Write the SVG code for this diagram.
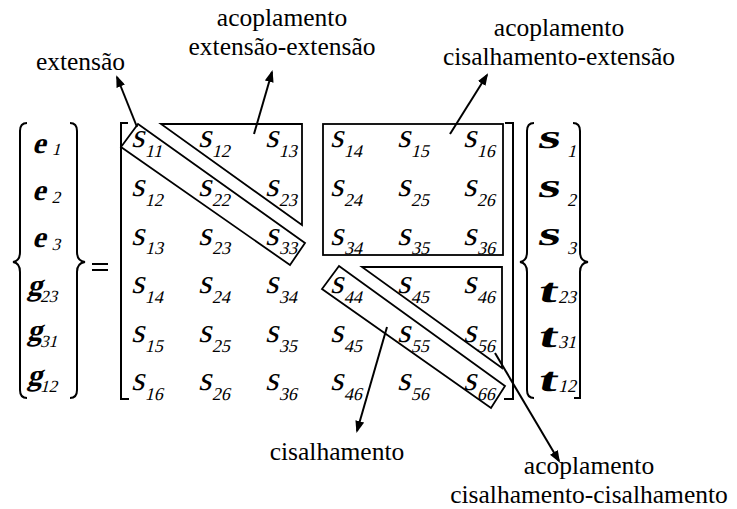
<svg xmlns="http://www.w3.org/2000/svg" width="737" height="509" viewBox="0 0 737 509">
<defs>
<style>
.lb{font-family:"Liberation Serif","Times New Roman",serif;font-size:25.5px;fill:#000;text-anchor:middle}
.s{font-family:"Liberation Serif","Times New Roman",serif;font-size:34px;fill:#000}
.sub{font-size:18px}
.lv{font-family:"Liberation Serif","Times New Roman",serif;font-weight:bold;font-size:30px;fill:#000}
.lsub{font-weight:normal;font-size:17px}
.rv{font-family:"Liberation Serif","Times New Roman",serif;font-weight:bold;font-size:34px;fill:#000}
.rsub{font-family:"Liberation Serif","Times New Roman",serif;font-weight:normal;font-size:18px;fill:#000}
.br{fill:none;stroke:#000;stroke-width:2}
.bx{fill:none;stroke:#000;stroke-width:1.8}
.cn{fill:none;stroke:#000;stroke-width:2;marker-end:url(#ah)}
</style>
<marker id="ah" viewBox="0 0 12 9" refX="10" refY="4.5" markerWidth="12" markerHeight="9" markerUnits="userSpaceOnUse" orient="auto">
<path d="M0,0 L12,4.5 L0,9 z" fill="#000"/>
</marker>
</defs>
<rect width="737" height="509" fill="#fff"/>

<g id="left-vector">
<path class="br" d="M27,123 Q20,123 20,131 L20,252 Q20,261 13,262 Q20,263 20,272 L20,390 Q20,398 27,398"/>
<path class="br" d="M70,123 Q77,123 77,131 L77,252 Q77,261 85,262 Q77,263 77,272 L77,390 Q77,398 70,398"/>
<text class="lv" transform="translate(32,153) skewX(-15)">e<tspan class="lsub" dx="7" dy="2">1</tspan></text>
<text class="lv" transform="translate(32,200) skewX(-15)">e<tspan class="lsub" dx="7" dy="3">2</tspan></text>
<text class="lv" transform="translate(32,247) skewX(-15)">e<tspan class="lsub" dx="7" dy="3">3</tspan></text>
<text class="lv" transform="translate(27,295) skewX(-15)">g<tspan class="lsub" dx="0" dy="7">23</tspan></text>
<text class="lv" transform="translate(27,340) skewX(-15)">g<tspan class="lsub" dx="0" dy="7">31</tspan></text>
<text class="lv" transform="translate(27,385) skewX(-15)">g<tspan class="lsub" dx="0" dy="7">12</tspan></text>
</g>

<g id="equals">
<line class="br" x1="92" y1="264" x2="108" y2="264"/>
<line class="br" x1="92" y1="270" x2="108" y2="270"/>
</g>

<g id="matrix">
<path class="br" d="M128,123 L121,123 L121,399 L129,399"/>
<path class="br" d="M505,123 L513,123 L513,399 L504,399"/>
<text class="s" transform="translate(131,147) skewX(-14)">s<tspan class="sub" dx="3" dy="10">11</tspan></text>
<text class="s" transform="translate(198,147) skewX(-14)">s<tspan class="sub" dx="3" dy="10">12</tspan></text>
<text class="s" transform="translate(265,147) skewX(-14)">s<tspan class="sub" dx="3" dy="10">13</tspan></text>
<text class="s" transform="translate(330,147) skewX(-14)">s<tspan class="sub" dx="3" dy="10">14</tspan></text>
<text class="s" transform="translate(397,147) skewX(-14)">s<tspan class="sub" dx="3" dy="10">15</tspan></text>
<text class="s" transform="translate(463,147) skewX(-14)">s<tspan class="sub" dx="3" dy="10">16</tspan></text>

<text class="s" transform="translate(131,196) skewX(-14)">s<tspan class="sub" dx="3" dy="10">12</tspan></text>
<text class="s" transform="translate(198,196) skewX(-14)">s<tspan class="sub" dx="3" dy="10">22</tspan></text>
<text class="s" transform="translate(265,196) skewX(-14)">s<tspan class="sub" dx="3" dy="10">23</tspan></text>
<text class="s" transform="translate(330,196) skewX(-14)">s<tspan class="sub" dx="3" dy="10">24</tspan></text>
<text class="s" transform="translate(397,196) skewX(-14)">s<tspan class="sub" dx="3" dy="10">25</tspan></text>
<text class="s" transform="translate(463,196) skewX(-14)">s<tspan class="sub" dx="3" dy="10">26</tspan></text>

<text class="s" transform="translate(131,245) skewX(-14)">s<tspan class="sub" dx="3" dy="9">13</tspan></text>
<text class="s" transform="translate(198,245) skewX(-14)">s<tspan class="sub" dx="3" dy="9">23</tspan></text>
<text class="s" transform="translate(265,245) skewX(-14)">s<tspan class="sub" dx="3" dy="9">33</tspan></text>
<text class="s" transform="translate(330,245) skewX(-14)">s<tspan class="sub" dx="3" dy="9">34</tspan></text>
<text class="s" transform="translate(397,245) skewX(-14)">s<tspan class="sub" dx="3" dy="9">35</tspan></text>
<text class="s" transform="translate(463,245) skewX(-14)">s<tspan class="sub" dx="3" dy="9">36</tspan></text>

<text class="s" transform="translate(131,293) skewX(-14)">s<tspan class="sub" dx="3" dy="10">14</tspan></text>
<text class="s" transform="translate(198,293) skewX(-14)">s<tspan class="sub" dx="3" dy="10">24</tspan></text>
<text class="s" transform="translate(265,293) skewX(-14)">s<tspan class="sub" dx="3" dy="10">34</tspan></text>
<text class="s" transform="translate(330,293) skewX(-14)">s<tspan class="sub" dx="3" dy="10">44</tspan></text>
<text class="s" transform="translate(397,293) skewX(-14)">s<tspan class="sub" dx="3" dy="10">45</tspan></text>
<text class="s" transform="translate(463,293) skewX(-14)">s<tspan class="sub" dx="3" dy="10">46</tspan></text>

<text class="s" transform="translate(131,342) skewX(-14)">s<tspan class="sub" dx="3" dy="10">15</tspan></text>
<text class="s" transform="translate(198,342) skewX(-14)">s<tspan class="sub" dx="3" dy="10">25</tspan></text>
<text class="s" transform="translate(265,342) skewX(-14)">s<tspan class="sub" dx="3" dy="10">35</tspan></text>
<text class="s" transform="translate(330,342) skewX(-14)">s<tspan class="sub" dx="3" dy="10">45</tspan></text>
<text class="s" transform="translate(397,342) skewX(-14)">s<tspan class="sub" dx="3" dy="10">55</tspan></text>
<text class="s" transform="translate(463,342) skewX(-14)">s<tspan class="sub" dx="3" dy="10">56</tspan></text>

<text class="s" transform="translate(131,390) skewX(-14)">s<tspan class="sub" dx="3" dy="10">16</tspan></text>
<text class="s" transform="translate(198,390) skewX(-14)">s<tspan class="sub" dx="3" dy="10">26</tspan></text>
<text class="s" transform="translate(265,390) skewX(-14)">s<tspan class="sub" dx="3" dy="10">36</tspan></text>
<text class="s" transform="translate(330,390) skewX(-14)">s<tspan class="sub" dx="3" dy="10">46</tspan></text>
<text class="s" transform="translate(397,390) skewX(-14)">s<tspan class="sub" dx="3" dy="10">56</tspan></text>
<text class="s" transform="translate(463,390) skewX(-14)">s<tspan class="sub" dx="3" dy="10">66</tspan></text>
</g>

<g id="box-extensao"><polygon class="bx" points="138,124 121,147 290,265 305,243"/></g>
<g id="box-acopl-ext-ext"><polygon class="bx" points="161,124 302,124 302,225"/></g>
<g id="box-acopl-cis-ext"><rect class="bx" x="323" y="124" width="180" height="131"/></g>
<g id="box-acopl-cis-cis"><polygon class="bx" points="362,267 502,267 502,368"/></g>
<g id="box-cisalhamento"><polygon class="bx" points="339,266 322,289 491,408 505,386"/></g>

<g id="right-vector">
<path class="br" d="M534,123 Q527,123 527,131 L527,252 Q527,261 520,262 Q527,263 527,272 L527,390 Q527,398 534,398"/>
<path class="br" d="M573,123 Q580,123 580,131 L580,252 Q580,261 588,262 Q580,263 580,272 L580,398 L574,398"/>
<text class="rv" transform="translate(537,148) skewX(-12)" textLength="22" lengthAdjust="spacingAndGlyphs">s</text>
<text class="rsub" transform="translate(567,157) skewX(-14)">1</text>
<text class="rv" transform="translate(537,197) skewX(-12)" textLength="22" lengthAdjust="spacingAndGlyphs">s</text>
<text class="rsub" transform="translate(567,206) skewX(-14)">2</text>
<text class="rv" transform="translate(537,245) skewX(-12)" textLength="22" lengthAdjust="spacingAndGlyphs">s</text>
<text class="rsub" transform="translate(567,254) skewX(-14)">3</text>
<text class="rv" transform="translate(537,302) skewX(-12)" textLength="19" lengthAdjust="spacingAndGlyphs">t</text>
<text class="rsub" transform="translate(558,303) skewX(-14)">23</text>
<text class="rv" transform="translate(537,347) skewX(-12)" textLength="19" lengthAdjust="spacingAndGlyphs">t</text>
<text class="rsub" transform="translate(558,348) skewX(-14)">31</text>
<text class="rv" transform="translate(537,391) skewX(-12)" textLength="19" lengthAdjust="spacingAndGlyphs">t</text>
<text class="rsub" transform="translate(558,392) skewX(-14)">12</text>
</g>

<g id="label-extensao"><text class="lb" x="80.5" y="70">extensão</text></g>
<g id="label-acopl-ext-ext"><text class="lb" x="282" y="26">acoplamento</text><text class="lb" x="282" y="54.5">extensão-extensão</text></g>
<g id="label-acopl-cis-ext"><text class="lb" x="559" y="36">acoplamento</text><text class="lb" x="559" y="64.5">cisalhamento-extensão</text></g>
<g id="label-cisalhamento"><text class="lb" x="337" y="460">cisalhamento</text></g>
<g id="label-acopl-cis-cis"><text class="lb" x="589" y="474">acoplamento</text><text class="lb" x="589" y="502.5">cisalhamento-cisalhamento</text></g>

<g id="connectors">
<line class="cn" x1="137" y1="127" x2="117" y2="77"/>
<line class="cn" x1="254" y1="134" x2="272" y2="72"/>
<line class="cn" x1="450" y1="134" x2="487" y2="75"/>
<line class="cn" x1="387" y1="327" x2="357" y2="431"/>
<line class="cn" x1="495" y1="353" x2="559" y2="461"/>
</g>
</svg>
